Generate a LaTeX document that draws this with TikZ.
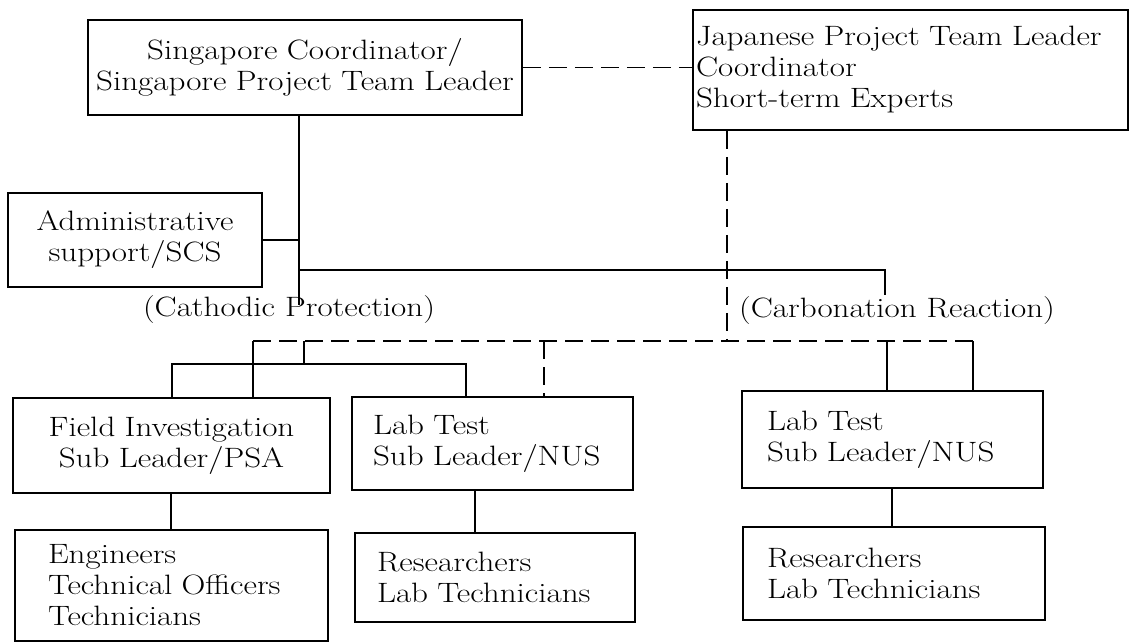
\documentclass[tikz,border=0pt]{standalone}
\usepackage{fontspec}
\setmainfont{Latin Modern Roman}[FakeStretch=1.18]
\usetikzlibrary{calc}
\newcommand{\orgfont}{\fontsize{28}{31}\selectfont}
\newcommand{\BusY}{270}
\newcommand{\LinkY}{341}
\newcommand{\BraceY}{364}
\tikzset{
  orgbox/.style={draw, line width=1.6pt, inner xsep=0pt, inner ysep=0pt, font=\orgfont, align=center},
  leftbox/.style={orgbox, align=left},
  solidline/.style={line width=1.6pt},
  dashline/.style={line width=1.6pt, dash pattern=on 18pt off 8pt},
  caption/.style={inner sep=0pt, font=\orgfont}
}

\begin{document}
\begin{tikzpicture}[x=1pt,y=-1pt]
\useasboundingbox (0,0) rectangle (1130,643);

% leaders
\node[orgbox, minimum width=434pt, minimum height=95pt, text width=434pt] (sc) at (305,67.5) {Singapore Coordinator/\\Singapore Project Team Leader};
\node[leftbox, minimum width=435pt, minimum height=120pt, inner xsep=3pt, text width=429pt] (jp) at (910.5,70) {Japanese Project Team Leader\\Coordinator\\Short-term Experts};
\node[orgbox, minimum width=254pt, minimum height=94pt, text width=254pt] (adm) at (135,240) {Administrative\\support/SCS};

% sub leaders
\node[orgbox, minimum width=317pt, minimum height=95pt, text width=317pt] (fld) at (171.5,445.5) {Field Investigation\\Sub Leader/PSA};
\node[leftbox, minimum width=281pt, minimum height=93pt, inner xsep=21pt, text width=239pt] (labm) at (492.5,443.5) {Lab Test\\Sub Leader/NUS};
\node[leftbox, minimum width=301pt, minimum height=97pt, inner xsep=25pt, text width=251pt] (labr) at (892.5,439.5) {Lab Test\\Sub Leader/NUS};

% staff
\node[leftbox, minimum width=313pt, minimum height=111pt, inner xsep=33pt, text width=247pt] (eng) at (171.5,585.5) {Engineers\\Technical Officers\\Technicians};
\node[leftbox, minimum width=280pt, minimum height=89pt, inner xsep=22pt, text width=236pt] (resm) at (495,577.5) {Researchers\\Lab Technicians};
\node[leftbox, minimum width=302pt, minimum height=93pt, inner xsep=24pt, text width=254pt] (resr) at (894,573.5) {Researchers\\Lab Technicians};

% research fields
\node[caption] (cath) at (289,310) {(Cathodic Protection)};
\node[caption] (carb) at (897,311) {(Carbonation Reaction)};

\coordinate (spine) at (299,305);
\coordinate (busL) at (299,\BusY);
\coordinate (busR) at (885,\BusY);
\coordinate (busEnd) at (885,295);
\coordinate (linkL) at (253,\LinkY);
\coordinate (linkR) at (973,\LinkY);
\coordinate (jpDrop) at (727,\LinkY);
\coordinate (labDrop) at (544,\LinkY);
\coordinate (carbDrop) at (887,\LinkY);
\coordinate (stub) at (304,\LinkY);
\coordinate (braceM) at (304,\BraceY);
\coordinate (braceL) at (172,\BraceY);
\coordinate (braceR) at (466,\BraceY);
\coordinate (engDrop) at (171,495);
\coordinate (resDrop) at (475,490);
\coordinate (resrDrop) at (892,488);

\draw[dashline] (sc.east) -- (sc.east -| jp.west);% leader link
\draw[solidline] (sc.south -| spine) -- (spine);% main spine
\draw[solidline] (adm.east) -- (adm.east -| spine);% admin
\draw[solidline] (busL) -- (busR) -- (busEnd);% top bus
\draw[dashline] (jp.south -| jpDrop) -- (jpDrop);% japanese side
\draw[dashline] (linkL) -- (linkR);% cooperation line
\draw[solidline] (linkL) -- (linkL |- fld.north);
\draw[solidline] (stub) -- (braceM);
\draw[solidline] (braceL |- fld.north) -- (braceL) -- (braceR) -- (braceR |- labm.north);
\draw[dashline] (labDrop) -- (labDrop |- labm.north);
\draw[solidline] (carbDrop) -- (carbDrop |- labr.north);
\draw[solidline] (linkR) -- (linkR |- labr.north);

\draw[solidline] (fld.south -| engDrop) -- (eng.north -| engDrop);
\draw[solidline] (resDrop) -- (resDrop |- resm.north);
\draw[solidline] (labr.south -| resrDrop) -- (resr.north -| resrDrop);
\end{tikzpicture}
\end{document}
